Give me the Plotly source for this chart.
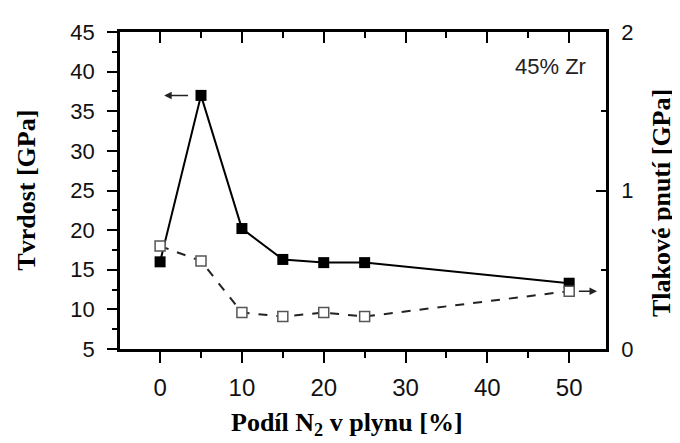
import plotly.graph_objects as go

# Data
n2_share = [0, 5, 10, 15, 20, 25, 50]            # Podíl N2 v plynu [%]
hardness = [16.0, 37.0, 20.2, 16.3, 15.9, 15.9, 13.3]   # Tvrdost [GPa] (left axis)
stress = [0.65, 0.555, 0.23, 0.205, 0.23, 0.205, 0.365] # Tlakové pnutí [GPa] (right axis)

x_ticks = [0, 10, 20, 30, 40, 50]
y_left_ticks = [5, 10, 15, 20, 25, 30, 35, 40, 45]
y_right_ticks = [0, 1, 2]

tick_font = dict(family="Liberation Sans, Arial", size=22, color="#111")
title_font = dict(family="Liberation Serif, Times New Roman", size=26, color="black")

fig = go.Figure()

fig.add_trace(go.Scatter(
    x=n2_share, y=stress, mode="lines+markers", yaxis="y2",
    line=dict(color="#222", width=2, dash="dash"),
    marker=dict(symbol="square", size=10, color="white",
                line=dict(color="#555", width=1.5)),
    showlegend=False))

fig.add_trace(go.Scatter(
    x=n2_share, y=hardness, mode="lines+markers",
    line=dict(color="black", width=2),
    marker=dict(symbol="square", size=11, color="black"),
    showlegend=False))

# empty trace to anchor the mirrored top axis
fig.add_trace(go.Scatter(x=[], y=[], xaxis="x2", showlegend=False))

xr = [-4.9, 54.5]
# the page body adds an 8px margin; the figure is sized so that it fills 680x443
fig.update_layout(
    width=672, height=435,
    margin=dict(l=112, r=74, t=17, b=94),
    paper_bgcolor="white", plot_bgcolor="white",
    xaxis=dict(range=xr, tickvals=x_ticks, ticks="outside", ticklen=11, tickwidth=2,
               tickcolor="black", showline=True, linecolor="black", linewidth=2.5,
               showgrid=False, zeroline=False, tickfont=dict(tick_font, size=24),
               ticklabelstandoff=4,
               minor=dict(dtick=5, tick0=0, ticks="outside", ticklen=6, tickwidth=2,
                          tickcolor="black", showgrid=False)),
    xaxis2=dict(range=xr, overlaying="x", side="top", tickvals=x_ticks, ticks="inside",
                ticklen=11, tickwidth=2, tickcolor="black", showline=True,
                linecolor="black", linewidth=2.5, showticklabels=False, showgrid=False,
                zeroline=False,
                minor=dict(dtick=5, tick0=0, ticks="inside", ticklen=6, tickwidth=2,
                           tickcolor="black", showgrid=False)),
    yaxis=dict(range=[5, 45], tickvals=y_left_ticks, ticks="outside", ticklen=10,
               tickwidth=2, tickcolor="black", showline=True, linecolor="black",
               linewidth=2.5, showgrid=False, zeroline=False, tickfont=tick_font,
               ticklabelstandoff=8,
               minor=dict(dtick=2.5, tick0=5, ticks="outside", ticklen=5, tickwidth=2,
                          tickcolor="black", showgrid=False)),
    yaxis2=dict(range=[0, 2], overlaying="y", side="right", tickvals=y_right_ticks,
                ticks="inside", ticklen=10, tickwidth=2, tickcolor="black",
                showline=True, linecolor="black", linewidth=2.5, showgrid=False,
                zeroline=False, tickfont=tick_font, ticklabelstandoff=8,
                minor=dict(dtick=0.5, tick0=0, ticks="inside", ticklen=5, tickwidth=2,
                           tickcolor="black", showgrid=False)),
)

annotations = [
    dict(text="<b>Tvrdost [GPa]</b>", xref="paper", yref="paper", x=-0.193, y=0.5,
         xanchor="center", yanchor="middle",
         textangle=-90, showarrow=False, font=title_font),
    dict(text="<b>Tlakové pnutí [GPa]</b>", xref="paper", yref="paper", x=1.113, y=0.46,
         xanchor="center", yanchor="middle",
         textangle=-90, showarrow=False, font=title_font),
    dict(text="<b>Podíl N<sub>2</sub> v plynu [%]</b>", xref="paper", yref="paper",
         x=0.467, y=-0.238, xanchor="center", yanchor="middle",
         showarrow=False, font=dict(title_font, size=26)),
    dict(text="45% Zr", xref="paper", yref="paper", x=0.885, y=0.892,
         xanchor="center", yanchor="middle",
         showarrow=False, font=dict(family="Liberation Sans, Arial", size=22, color="#222")),
    # arrow pointing from hardness series to the left axis
    dict(x=0.5, y=37, ax=3.6, ay=37, xref="x", yref="y", axref="x", ayref="y",
         text="", showarrow=True, arrowhead=2, arrowsize=1, arrowwidth=1.5, arrowcolor="#222"),
    # arrow pointing from stress series to the right axis
    dict(x=53.4, y=0.365, ax=51.0, ay=0.365, xref="x", yref="y2", axref="x", ayref="y2",
         text="", showarrow=True, arrowhead=2, arrowsize=1, arrowwidth=1.5, arrowcolor="#222"),
]
fig.update_layout(annotations=annotations)

fig.write_html("out.html")
